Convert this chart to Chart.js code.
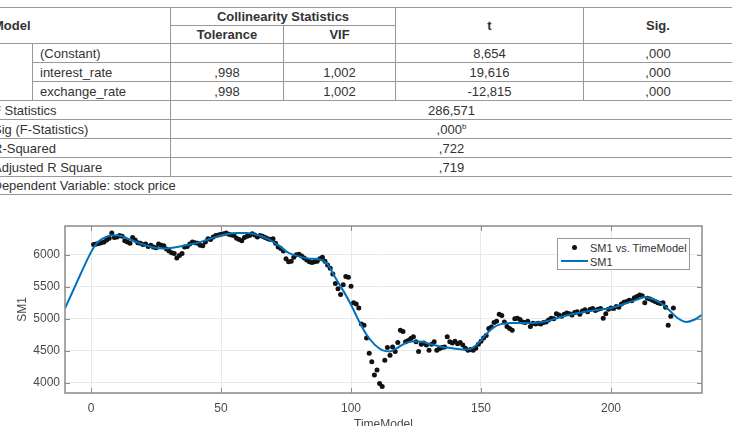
<!doctype html>
<html lang="en">
<head>
  <meta charset="utf-8">
  <title>SM1 vs. TimeModel</title>
  <style>
    html, body {
      margin: 0;
      padding: 0;
      width: 732px;
      height: 426px;
      overflow: hidden;
      background: #fff;
      font-family: "Liberation Sans", Arial, Helvetica, sans-serif;
    }

    .stats {
      position: absolute;
      left: -15px;
      top: 7px;
      width: 747px;
      border-collapse: collapse;
      table-layout: fixed;
      font-size: 13px;
      color: #333;
    }

    .stats td, .stats th {
      border: 1px solid #999;
      padding: 0 7px;
      white-space: nowrap;
      overflow: hidden;
      line-height: 1;
      vertical-align: middle;
      text-align: center;
    }

    .stats th { font-weight: bold; }
    .stats .left { text-align: left; }
    .stats .foot td { border-left: none; border-right: none; }
    .stats sup { font-size: 8px; vertical-align: 5px; line-height: 0; }

    .plot {
      position: absolute;
      left: 0;
      top: 200px;
      width: 732px;
      height: 240px;
    }

    .legend {
      position: absolute;
      left: 557px;
      top: 238px;
      width: 131px;
      height: 30px;
      border: 1px solid #999;
      background: #fff;
      font-size: 11px;
      color: #333;
    }
    .legend .txt { position: absolute; left: 32px; line-height: 14px; white-space: nowrap; }
    .legend .dot { position: absolute; left: 14px; top: 6px; width: 5px; height: 5px; border-radius: 50%; background: #111; }
    .legend .ln { position: absolute; left: 3px; top: 21px; width: 27px; height: 2px; background: #0072BD; }
  </style>
</head>
<body>
  <table class="stats">
    <colgroup>
      <col style="width:47px"><col style="width:138px"><col style="width:113px">
      <col style="width:112px"><col style="width:188px"><col style="width:149px">
    </colgroup>
    <tr style="height:18px">
      <th colspan="2" rowspan="2" class="left">Model</th>
      <th colspan="2">Collinearity Statistics</th>
      <th rowspan="2">t</th>
      <th rowspan="2">Sig.</th>
    </tr>
    <tr style="height:18px">
      <th>Tolerance</th>
      <th>VIF</th>
    </tr>
    <tr style="height:19px">
      <td rowspan="3" class="left">1</td>
      <td class="left">(Constant)</td>
      <td></td>
      <td></td>
      <td>8,654</td>
      <td>,000</td>
    </tr>
    <tr style="height:19px">
      <td class="left">interest_rate</td>
      <td>,998</td>
      <td>1,002</td>
      <td>19,616</td>
      <td>,000</td>
    </tr>
    <tr style="height:19px">
      <td class="left">exchange_rate</td>
      <td>,998</td>
      <td>1,002</td>
      <td>-12,815</td>
      <td>,000</td>
    </tr>
    <tr style="height:19px">
      <td colspan="2" class="left">F Statistics</td>
      <td colspan="4">286,571</td>
    </tr>
    <tr style="height:19px">
      <td colspan="2" class="left">Sig (F-Statistics)</td>
      <td colspan="4">,000<sup>b</sup></td>
    </tr>
    <tr style="height:19px">
      <td colspan="2" class="left">R-Squared</td>
      <td colspan="4">,722</td>
    </tr>
    <tr style="height:19px">
      <td colspan="2" class="left">Adjusted R Square</td>
      <td colspan="4">,719</td>
    </tr>
    <tr class="foot" style="height:18px">
      <td colspan="6" class="left">Dependent Variable: stock price</td>
    </tr>
  </table>

  <div class="plot"><canvas id="fit"></canvas></div>

  <div class="legend">
    <span class="dot"></span><span class="txt" style="top:2px">SM1 vs. TimeModel</span>
    <span class="ln"></span><span class="txt" style="top:16px">SM1</span>
  </div>

  <script src="https://cdn.jsdelivr.net/npm/chart.js@4.4.0/dist/chart.umd.min.js"></script>
  <script>
    // observed SM1 values, TimeModel = 1, 2, 3, ...
    const sm1 = [
      6160, 6170, 6175, 6190, 6200, 6230, 6260, 6340, 6270, 6280,
      6300, 6290, 6220, 6200, 6180, 6270, 6230, 6190, 6180, 6160,
      6170, 6130, 6150, 6120, 6110, 6170, 6150, 6140, 6090, 6060,
      6030, 6020, 5950, 5990, 6020, 6120, 6130, 6170, 6200, 6190,
      6180, 6150, 6140, 6200, 6250, 6240, 6280, 6300, 6310, 6320,
      6330, 6340, 6320, 6310, 6300, 6260, 6240, 6220, 6270, 6290,
      6300, 6330, 6310, 6280, 6300, 6290, 6270, 6250, 6240, 6250,
      6180, 6120, 6100, 6060, 5940, 5890, 5900, 5960, 6000, 6010,
      5980, 5950, 5920, 5890, 5880, 5890, 5900, 5940, 5960, 5900,
      5840, 5790, 5700, 5550, 5470, 5380, 5530, 5660, 5650, 5510,
      5250, 5230, 5170, 4920, 4900, 4700, 4460, 4330, 4120, 4200,
      3990, 3940, 4350, 4550, 4430, 4560, 4490, 4630, 4820, 4800,
      4640, 4660, 4690, 4720, 4640, 4490, 4600, 4620, 4590, 4510,
      4600, 4640, 4510, 4530, 4550, 4560, 4720, 4640, 4620, 4650,
      4610, 4630, 4590, 4540, 4510, 4520, 4510, 4540, 4600, 4650,
      4700, 4740, 4850, 4870, 4940, 4960, 5070, 5050, 4950, 4880,
      4850, 4820, 5000, 5010, 4990, 4950, 4940, 4960, 4880, 4930,
      4920, 4930, 4920, 4940, 4950, 4980, 5010, 5000, 5080, 5060,
      5040, 5070, 5090, 5080, 5060, 5100, 5110, 5070, 5120, 5140,
      5110, 5150, 5160, 5130, 5150, 5160, 5010, 5080, 5150, 5170,
      5160, 5190, 5180, 5230, 5260, 5270, 5290, 5280, 5330, 5350,
      5370, 5360, 5250, 5320, 5310, 5290, 5270, 5250, 5240, 5250,
      5180, 4900, 5040, 5170
    ];

    // fitted curve SM1
    const fitTime = [
      -10, -7, -4, -1, 1, 3, 6, 9, 12, 15, 18, 21, 24, 28, 32, 36, 40, 44, 48, 52,
      56, 60, 64, 68, 72, 76, 80, 84, 88, 91, 94, 97, 100, 103, 106, 109, 112, 115, 118, 121,
      124, 127, 131, 135, 139, 143, 146, 149, 152, 155, 158, 162, 166, 170, 175, 180, 185, 190, 195, 200,
      205, 210, 213, 216, 219, 222, 226, 229, 232, 235
    ];
    const fitSM1 = [
      5165, 5430, 5700, 5960, 6110, 6210, 6285, 6305, 6290, 6240, 6190, 6150, 6115, 6100, 6115, 6145, 6175, 6225, 6280, 6320,
      6340, 6340, 6310, 6250, 6150, 6030, 5975, 5940, 5925, 5850, 5640, 5440, 5220, 4970, 4750, 4600, 4510, 4490, 4550, 4620,
      4650, 4640, 4600, 4560, 4540, 4520, 4530, 4620, 4760, 4870, 4920, 4935, 4935, 4935, 4960, 5020, 5070, 5110, 5140, 5170,
      5230, 5300, 5335, 5310, 5250, 5150, 5000, 4950, 4985, 5060
    ];

    const xTicks = [0, 50, 100, 150, 200];
    const yTicks = [4000, 4500, 5000, 5500, 6000];

    const FONT = '"Liberation Sans", Arial, Helvetica, sans-serif';
    const TEXT = '#4a4a4a';

    // matlab style box with inward tick marks on all four sides
    const matlabAxes = {
      id: 'matlabAxes',
      afterDraw(chart) {
        const {ctx, chartArea: a, scales: {x, y}} = chart;
        const len = 5;
        ctx.save();
        ctx.strokeStyle = '#8a8a8a';
        ctx.lineWidth = 1;
        ctx.beginPath();
        xTicks.forEach(v => {
          const px = Math.round(x.getPixelForValue(v)) + 0.5;
          ctx.moveTo(px, a.bottom); ctx.lineTo(px, a.bottom - len);
          ctx.moveTo(px, a.top); ctx.lineTo(px, a.top + len);
        });
        yTicks.forEach(v => {
          const py = Math.round(y.getPixelForValue(v)) + 0.5;
          ctx.moveTo(a.left, py); ctx.lineTo(a.left + len, py);
          ctx.moveTo(a.right, py); ctx.lineTo(a.right - len, py);
        });
        ctx.stroke();
        ctx.lineWidth = 1.5;
        ctx.strokeRect(a.left, a.top, a.right - a.left, a.bottom - a.top);
        ctx.restore();
      }
    };

    new Chart(document.getElementById('fit'), {
      type: 'scatter',
      data: {
        datasets: [{
          label: 'SM1',
          data: fitTime.map((t, i) => ({x: t, y: fitSM1[i]})),
          showLine: true,
          borderColor: '#0072BD',
          borderWidth: 2,
          pointRadius: 0,
          cubicInterpolationMode: 'monotone',
          order: 0
        }, {
          label: 'SM1 vs. TimeModel',
          data: sm1.map((v, i) => ({x: i + 1, y: v})),
          backgroundColor: '#111',
          borderWidth: 0,
          pointRadius: 2.5,
          order: 1
        }]
      },
      options: {
        responsive: true,
        maintainAspectRatio: false,
        animation: false,
        layout: { padding: { top: 26, right: 30, left: 0, bottom: 0 } },
        plugins: { legend: { display: false }, tooltip: { enabled: false } },
        scales: {
          x: {
            type: 'linear',
            min: -10,
            max: 235,
            afterBuildTicks: s => { s.ticks = xTicks.map(v => ({value: v})); },
            afterFit: s => { s.height = 47; },
            grid: { color: '#e9e9e9', drawTicks: false },
            border: { display: false },
            ticks: { padding: 8, color: TEXT, font: { family: FONT, size: 12 }, callback: v => String(v) },
            title: { display: true, text: 'TimeModel', color: TEXT, padding: { top: 4, bottom: 8 }, font: { family: FONT, size: 12 } }
          },
          y: {
            type: 'linear',
            min: 3840,
            max: 6450,
            afterBuildTicks: s => { s.ticks = yTicks.map(v => ({value: v})); },
            afterFit: s => { s.width = 65; },
            grid: { color: '#e9e9e9', drawTicks: false },
            border: { display: false },
            ticks: { padding: 5, color: TEXT, font: { family: FONT, size: 12 }, callback: v => String(v) },
            title: { display: true, text: 'SM1', color: TEXT, padding: { top: 15, bottom: 0 }, font: { family: FONT, size: 12 } }
          }
        }
      },
      plugins: [matlabAxes]
    });
  </script>
</body>
</html>
